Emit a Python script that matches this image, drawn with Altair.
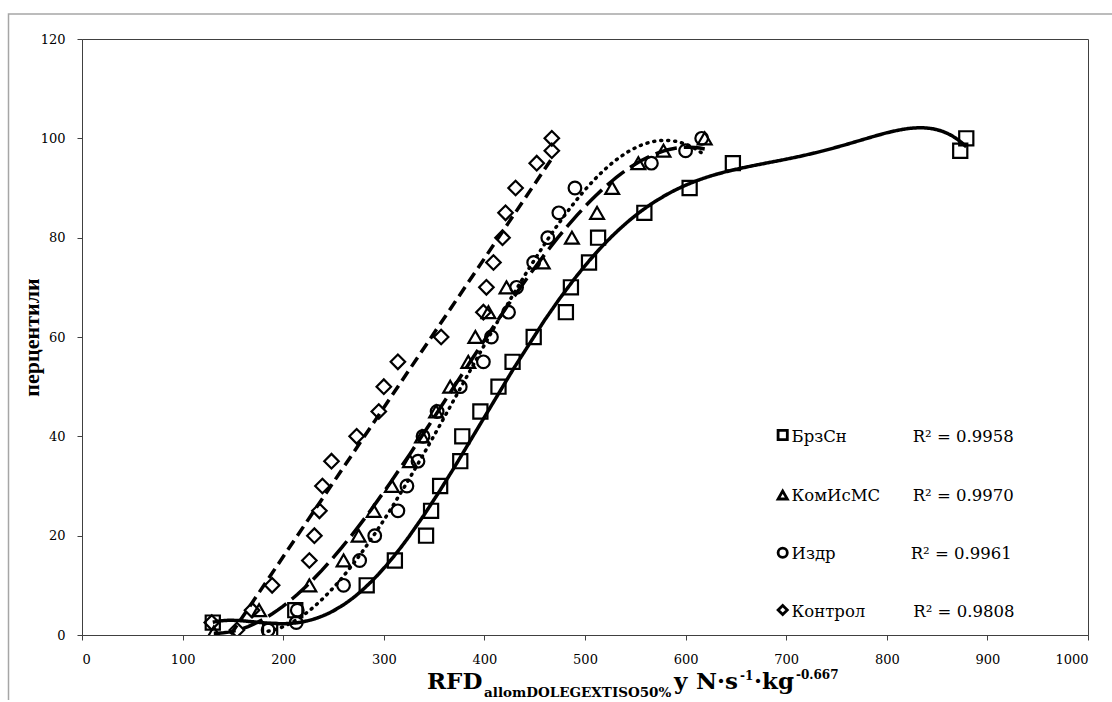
import altair as alt
import pandas as pd

# ---- data ----
series_names = ["БрзСн", "КомИсМС", "Издр", "Контрол"]
r2_labels = ["R² = 0.9958", "R² = 0.9970", "R² = 0.9961", "R² = 0.9808"]

brz_y = [2.5, 1, 5, 10, 15, 20, 25, 30, 35, 40, 45, 50, 55, 60, 65, 70, 75, 80, 85, 90, 95, 97.5, 100]
brz_x = [130, 187, 212, 283, 311, 342, 347, 356, 376, 378, 396, 414, 428, 449, 481, 486, 504, 513, 559, 604, 647, 873, 879]

kom_y = [0.5, 5, 10, 15, 20, 25, 30, 35, 40, 45, 50, 55, 60, 65, 70, 75, 80, 85, 90, 95, 97.5, 100]
kom_x = [131, 176, 226, 260, 275, 290, 308, 326, 338, 352, 366, 384, 391, 404, 422, 458, 487, 512, 527, 553, 578, 619]

izd_y = [1, 2.5, 5, 10, 15, 20, 25, 30, 35, 40, 45, 50, 55, 60, 65, 70, 75, 80, 85, 90, 95, 97.5, 100]
izd_x = [185, 213, 214, 260, 276, 291, 314, 323, 334, 339, 353, 376, 399, 407, 424, 432, 449, 463, 474, 490, 566, 600, 616]

kon_y = [2.5, 1, 5, 10, 15, 20, 25, 30, 35, 40, 45, 50, 55, 60, 65, 70, 75, 80, 85, 90, 95, 97.5, 100]
kon_x = [129, 154, 169, 189, 226, 231, 236, 239, 248, 273, 295, 300, 314, 357, 399, 402, 409, 418, 421, 431, 452, 467, 467]

x_ticks = list(range(0, 1001, 100))
y_ticks = list(range(0, 121, 20))

all_x = [brz_x, kom_x, izd_x, kon_x]
all_y = [brz_y, kom_y, izd_y, kon_y]

frames = []
for name, xs, ys in zip(series_names, all_x, all_y):
    frames.append(pd.DataFrame({"x": xs, "y": ys, "s": name}))
df = pd.concat(frames, ignore_index=True)

# ---- styles ----
SERIF = "DejaVu Serif"
shapes = ["square", "triangle-up", "circle", "diamond"]
sizes = [200, 190, 160, 210]
fits = [("poly", 6), ("poly", 3), ("poly", 3), ("linear", 1)]
dashes = [[1, 0], [22, 7], [1, 6], [11, 6]]
caps = ["butt", "butt", "round", "butt"]

W, H = 1006, 596

xscale = alt.Scale(domain=[0, 1000], nice=False)
yscale = alt.Scale(domain=[0, 120], nice=False)

x_axis = alt.Axis(values=x_ticks, format="d", grid=False, title=None,
                  labelFont=SERIF, labelFontSize=13, labelColor="black",
                  labelPadding=13, tickSize=5, tickColor="#404040",
                  domainColor="#404040")
y_axis = alt.Axis(values=y_ticks, format="d", grid=False,
                  title="перцентили", titleFont="Liberation Serif",
                  titleFontSize=22, titleFontWeight="bold", titleColor="black",
                  titleAngle=270, titleX=-51, titleY=298, titleAlign="center",
                  titleBaseline="middle",
                  labelFont=SERIF, labelFontSize=13, labelColor="black",
                  labelPadding=12, tickSize=5, tickColor="#404040",
                  domainColor="#404040")

layers = []

# outer chart-area border
border = alt.Chart(pd.DataFrame({"a": [0]})).mark_rect(
    fillOpacity=0, stroke="#a6a6a6", strokeWidth=1.5
).encode(x=alt.value(-73.5), x2=alt.value(1040), y=alt.value(-25), y2=alt.value(690))
layers.append(border)

# points
for name, shp, sz in zip(series_names, shapes, sizes):
    sub = df[df["s"] == name]
    pts = alt.Chart(sub).mark_point(
        shape=shp, filled=False, color="black", opacity=1, strokeWidth=2.2,
        size=sz, clip=True
    ).encode(
        x=alt.X("x:Q", scale=xscale, axis=x_axis),
        y=alt.Y("y:Q", scale=yscale, axis=y_axis),
    )
    layers.append(pts)

# trend lines
for name, (meth, order), dash, cap in zip(series_names, fits, dashes, caps):
    sub = df[df["s"] == name]
    if meth == "poly":
        base = alt.Chart(sub).transform_regression("x", "y", method="poly", order=order)
    else:
        base = alt.Chart(sub).transform_regression("x", "y", method="linear")
    ln = base.mark_line(color="black", strokeWidth=3.5, strokeDash=dash,
                        strokeCap=cap, clip=True).encode(
        x=alt.X("x:Q", scale=xscale),
        y=alt.Y("y:Q", scale=yscale),
    )
    layers.append(ln)

# legend (Excel style, inside plot)
marker_y = [396, 456, 513.7, 571]
text_y = [402.7, 462, 520, 577.7]
r2_x = [830.7, 830.7, 828.7, 831.3]
for i, name in enumerate(series_names):
    one = pd.DataFrame({"name": [name], "r2": [r2_labels[i]]})
    mk = alt.Chart(one).mark_point(shape=shapes[i], filled=False, color="black",
                                   opacity=1, strokeWidth=2.8, size=85).encode(
        x=alt.value(700.7), y=alt.value(marker_y[i]))
    t1 = alt.Chart(one).mark_text(align="left", baseline="alphabetic", font=SERIF,
                                  fontSize=16.5, color="black").encode(
        x=alt.value(709.5), y=alt.value(text_y[i]), text="name:N")
    t2 = alt.Chart(one).mark_text(align="left", baseline="alphabetic", font=SERIF,
                                  fontSize=16.5, color="black").encode(
        x=alt.value(r2_x[i]), y=alt.value(text_y[i]), text="r2:N")
    layers += [mk, t1, t2]

# x-axis title with sub/superscripts (x offsets relative to plot left edge)
title_parts = [
    ("RFD", 345, 650, 23),
    ("allomDOLEGEXTISO50%", 402, 658, 13.5),
    ("y", 592, 650, 23),
    ("N·s", 614, 650, 23),
    ("-1", 658, 641, 12),
    ("·kg", 672, 650, 23),
    ("-0.667", 714, 640, 12),
]
for txt, px, py, fs in title_parts:
    one = pd.DataFrame({"t": [txt]})
    layers.append(
        alt.Chart(one).mark_text(align="left", baseline="alphabetic", font=SERIF,
                                 fontSize=fs, fontWeight="bold", color="black").encode(
            x=alt.value(px), y=alt.value(py), text="t:N")
    )

chart = alt.layer(*layers).properties(
    width=W, height=H,
    autosize=alt.AutoSizeParams(type="none"),
    padding={"left": 82, "top": 39, "right": 24, "bottom": 65},
    background="white",
).configure_view(stroke="#404040", strokeWidth=1)

chart.save("out.html", embed_options={"renderer": "svg", "actions": False})
